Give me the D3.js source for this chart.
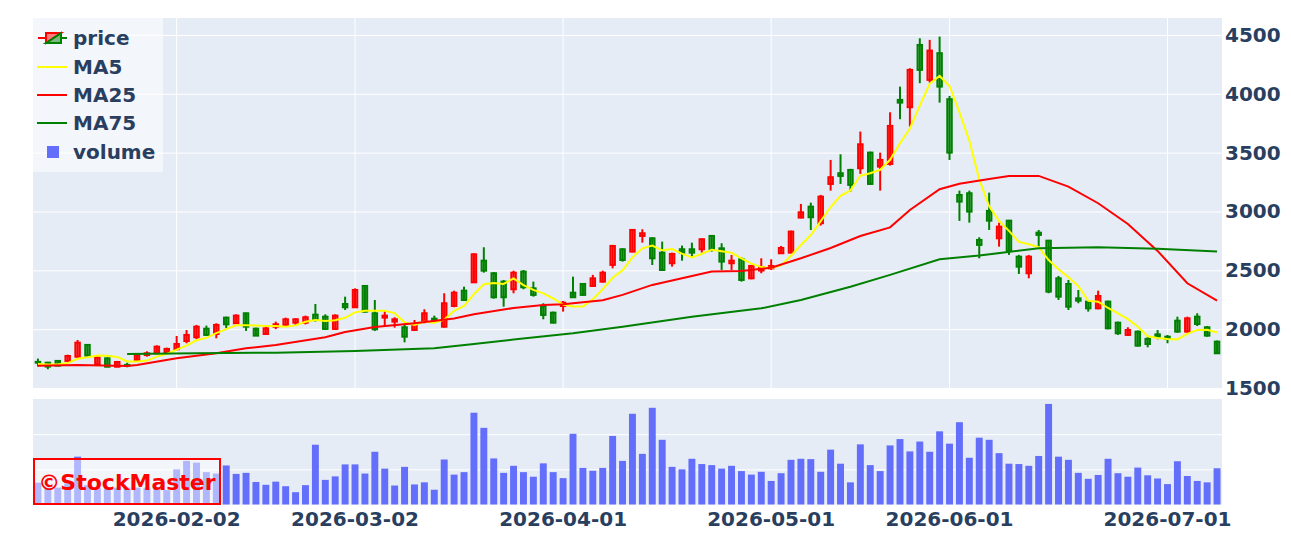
<!DOCTYPE html>
<html>
<head>
<meta charset="utf-8">
<script src="https://cdn.jsdelivr.net/npm/d3@7"></script>
<style>
  body { margin: 0; background: #fff; }
  svg { display: block; }
  text { font-family: "DejaVu Sans", Verdana, sans-serif; font-weight: bold; }
</style>
</head>
<body>
<div id="chart"></div>
<script>
// trading days (weekends and market holidays are not in the axis)
const dates = [
  "2026-01-13","2026-01-14","2026-01-15","2026-01-16","2026-01-19","2026-01-20","2026-01-21","2026-01-22","2026-01-23","2026-01-26",
  "2026-01-27","2026-01-28","2026-01-29","2026-01-30","2026-02-02","2026-02-03","2026-02-04","2026-02-05","2026-02-06","2026-02-09",
  "2026-02-10","2026-02-12","2026-02-13","2026-02-16","2026-02-17","2026-02-18","2026-02-19","2026-02-20","2026-02-24","2026-02-25",
  "2026-02-26","2026-02-27","2026-03-02","2026-03-03","2026-03-04","2026-03-05","2026-03-06","2026-03-09","2026-03-10","2026-03-11",
  "2026-03-12","2026-03-13","2026-03-16","2026-03-17","2026-03-18","2026-03-19","2026-03-23","2026-03-24","2026-03-25","2026-03-26",
  "2026-03-27","2026-03-30","2026-03-31","2026-04-01","2026-04-02","2026-04-03","2026-04-06","2026-04-07","2026-04-08","2026-04-09",
  "2026-04-10","2026-04-13","2026-04-14","2026-04-15","2026-04-16","2026-04-17","2026-04-20","2026-04-21","2026-04-22","2026-04-23",
  "2026-04-24","2026-04-27","2026-04-28","2026-04-30","2026-05-01","2026-05-07","2026-05-08","2026-05-11","2026-05-12","2026-05-13",
  "2026-05-14","2026-05-15","2026-05-18","2026-05-19","2026-05-20","2026-05-21","2026-05-22","2026-05-25","2026-05-26","2026-05-27",
  "2026-05-28","2026-05-29","2026-06-01","2026-06-02","2026-06-03","2026-06-04","2026-06-05","2026-06-08","2026-06-09","2026-06-10",
  "2026-06-11","2026-06-12","2026-06-15","2026-06-16","2026-06-17","2026-06-18","2026-06-19","2026-06-22","2026-06-23","2026-06-24",
  "2026-06-25","2026-06-26","2026-06-29","2026-06-30","2026-07-01","2026-07-02","2026-07-03","2026-07-06","2026-07-07","2026-07-08"
];

const open = [
  1722,1715,1730,1730,1766,1866,1701,1752,1681,1696, 1738,1780,1795,1800,1829,1899,1931,2004,1959,2098,
  2050,2135,2004,1959,2021,2036,2055,2055,2123,2106, 2002,2214,2186,2367,2135,2098,2064,2016,1993,2064,
  2089,2021,2197,2327,2398,2582,2475,2404,2339,2489, 2347,2197,2140,2197,2310,2384,2367,2404,2546,2679,
  2659,2792,2772,2650,2560,2679,2679,2679,2792,2687, 2560,2594,2432,2498,2517,2645,2650,2948,3041,2900,
  3234,3325,3353,3367,3500,3381,3404,3948,3886,4415, 4118,4345,3954,3140,3155,2758,3005,2772,2922,2616,
  2475,2820,2752,2432,2384,2262,2234,2177,2234,2055, 1951,1979,1917,1956,1936,2072,1979,2106,2016,1894
];
const high = [
  1750,1722,1738,1783,1908,1871,1772,1761,1730,1715, 1795,1812,1863,1843,1942,1993,2036,2030,2050,2106,
  2126,2140,2013,2030,2064,2098,2092,2115,2214,2126, 2126,2276,2347,2370,2248,2157,2101,2036,2078,2169,
  2115,2305,2327,2361,2645,2696,2486,2418,2497,2503, 2404,2220,2149,2240,2446,2390,2461,2497,2716,2687,
  2851,2849,2781,2744,2650,2710,2735,2772,2800,2730, 2630,2611,2546,2602,2594,2707,2837,3064,3075,3141,
  3438,3486,3362,3679,3509,3500,3843,4061,4217,4472, 4458,4486,3982,3177,3177,2781,3160,2905,2928,2631,
  2631,2843,2758,2452,2418,2333,2248,2327,2242,2064, 2016,1988,1936,1993,1951,2106,2106,2135,2027,1903
];
const low = [
  1682,1659,1684,1724,1750,1766,1696,1676,1676,1676, 1732,1766,1789,1789,1823,1880,1914,1942,1922,2007,
  2044,1985,1942,1953,2000,2027,2036,2041,2064,1993, 1993,2163,2180,2140,1985,2027,2013,1888,1985,2050,
  2064,2013,2186,2240,2395,2480,2259,2191,2305,2339, 2276,2084,2050,2149,2271,2285,2361,2395,2517,2574,
  2653,2735,2545,2497,2531,2582,2616,2650,2659,2503, 2503,2404,2424,2475,2503,2639,2645,2942,2843,2880,
  3177,3234,3169,3319,3226,3177,3390,3784,3721,4090, 4095,3925,3438,2920,2905,2602,2843,2701,2631,2469,
  2432,2701,2305,2248,2163,2220,2149,2169,1999,1951, 1942,1852,1846,1914,1880,1970,1970,2027,1936,1789
];
const close = [
  1715,1682,1690,1772,1885,1775,1758,1681,1721,1690, 1778,1795,1851,1832,1874,1951,2021,1951,2036,2041,
  2115,2021,1945,2007,2041,2084,2084,2101,2078,2002, 2115,2186,2333,2149,1999,2115,2084,1936,2041,2135,
  2072,2220,2310,2248,2636,2497,2271,2271,2480,2356, 2291,2121,2055,2225,2271,2291,2432,2480,2707,2588,
  2843,2815,2602,2503,2639,2650,2650,2764,2673,2574, 2582,2418,2537,2526,2537,2690,2829,2993,2951,3126,
  3291,3302,3226,3571,3234,3438,3727,3925,4203,4203, 4367,4061,3500,3084,2999,2716,2922,2871,2667,2531,
  2616,2801,2319,2276,2191,2242,2177,2282,2007,1965, 1993,1860,1874,1936,1917,1979,2092,2044,1945,1795
];
// closes of the four sessions before the first shown day (for MA5)
const priorClose = [1700, 1690, 1710, 1700];

// volume, thousand shares
const volume = [
   620, 480, 480, 600,1360, 550, 480, 450, 480, 480,  480, 480, 480, 410,1000,1240,1190, 920, 880,1110,
   870, 900, 640, 560, 650, 520, 350, 550,1700, 700,  800,1140,1140, 880,1500,1020, 540,1070, 570, 630,
   420,1280, 850, 920,2610,2180,1310, 900,1100, 920,  790,1170, 920, 750,2010,1040, 960,1040,1950,1240,
  2580,1440,2750,1840,1070,1000,1300,1150,1120,1020, 1100, 950, 850, 930, 670, 890,1270,1300,1290, 930,
  1560,1160, 630,1710,1120, 950,1680,1860,1510,1790, 1500,2080,1730,2340,1330,1900,1840,1460,1160,1150,
  1100,1380,2860,1360,1270, 900, 730, 840,1300, 890,  790,1050, 830, 740, 580,1230, 810, 670, 630,1030
];

// moving averages (longer windows need history before the first shown day)
const ma25Dates = ["2026-01-13","2026-01-19","2026-01-26","2026-01-27","2026-02-02","2026-02-06","2026-02-12","2026-02-17",
  "2026-02-25","2026-02-27","2026-03-04","2026-03-10","2026-03-16","2026-03-18","2026-03-25","2026-03-30","2026-04-01",
  "2026-04-07","2026-04-09","2026-04-14","2026-04-17","2026-04-22","2026-04-27","2026-05-01","2026-05-11","2026-05-14",
  "2026-05-19","2026-05-22","2026-05-26","2026-05-29","2026-06-02","2026-06-05","2026-06-09","2026-06-12","2026-06-17",
  "2026-06-22","2026-06-25","2026-06-30","2026-07-03","2026-07-08"];
const ma25Values = [1690,1696,1687,1696,1752,1795,1837,1866,
  1931,1975,2018,2050,2090,2126,2180,2206,2211,
  2245,2291,2376,2432,2489,2495,2522,2602,2690,
  2792,2865,3013,3189,3235,3276,3302,3302,3211,
  3070,2894,2665,2390,2242];

const ma75Dates = ["2026-01-26","2026-02-04","2026-02-17","2026-03-02","2026-03-12","2026-03-18","2026-03-25","2026-04-02",
  "2026-04-09","2026-04-20","2026-04-30","2026-05-11","2026-05-18","2026-05-22","2026-05-29","2026-06-04","2026-06-12",
  "2026-06-22","2026-06-30","2026-07-08"];
const ma75Values = [1789,1795,1800,1815,1837,1874,1912,1965,
  2021,2106,2177,2248,2361,2461,2594,2625,2687,
  2696,2684,2659];

const xTicks = ["2026-02-02","2026-03-02","2026-04-01","2026-05-01","2026-06-01","2026-07-01"];
const yTicks = [1500, 2000, 2500, 3000, 3500, 4000, 4500];
const volTicks = [1000, 2000];

// layout
const width = 1291, height = 543;
const plot = { left: 33, right: 1222 };
const price = { top: 18, bottom: 388 };
const vol = { top: 399, bottom: 504.5 };
const textColor = '#2a3f5f';
const upColor = '#ff0000', downColor = '#008000';

const svg = d3.create('svg')
    .attr('width', width)
    .attr('height', height);

const x = d3.scaleBand().domain(dates).range([plot.left, plot.right]);
const cx = d => x(d) + x.bandwidth() / 2;
const yPrice = d3.scaleLinear().domain([1500, 4644]).range([price.bottom, price.top]);
const yVol = d3.scaleLinear().domain([0, 3000]).range([vol.bottom, vol.top]);

// panel backgrounds
svg.append('rect').attr('x', plot.left).attr('y', price.top)
    .attr('width', plot.right - plot.left).attr('height', price.bottom - price.top).attr('fill', '#e5ecf6');
svg.append('rect').attr('x', plot.left).attr('y', vol.top)
    .attr('width', plot.right - plot.left).attr('height', vol.bottom - vol.top).attr('fill', '#e5ecf6');

const whiteGrid = g => {
    g.select('.domain').remove();
    g.selectAll('line').attr('stroke', '#fff').attr('stroke-width', 1);
    g.selectAll('text').remove();
};

// gridlines
svg.append('g').attr('transform', `translate(${plot.right},0)`)
    .call(d3.axisLeft(yPrice).tickValues(yTicks).tickSize(plot.right - plot.left))
    .call(whiteGrid);
svg.append('g').attr('transform', `translate(0,${price.bottom})`)
    .call(d3.axisBottom(x).tickValues(xTicks).tickSize(-(price.bottom - price.top)))
    .call(whiteGrid);
svg.append('g').attr('transform', `translate(${plot.right},0)`)
    .call(d3.axisLeft(yVol).tickValues(volTicks).tickSize(plot.right - plot.left))
    .call(whiteGrid);

// price labels on the right
svg.append('g').attr('transform', `translate(${plot.right},0)`)
    .call(d3.axisRight(yPrice).tickValues(yTicks).tickFormat(d3.format('d')).tickSize(0).tickPadding(3))
    .call(g => g.select('.domain').remove())
    .call(g => g.selectAll('text')
        .attr('fill', textColor).attr('font-size', 20)
        .attr('font-family', '"DejaVu Sans", Verdana, sans-serif').attr('font-weight', 'bold'));

// date labels below the volume panel
svg.append('g').attr('transform', `translate(0,${vol.bottom})`)
    .call(d3.axisBottom(x).tickValues(xTicks).tickSize(0).tickPadding(7))
    .call(g => g.select('.domain').remove())
    .call(g => g.selectAll('text')
        .attr('fill', textColor).attr('font-size', 20)
        .attr('font-family', '"DejaVu Sans", Verdana, sans-serif').attr('font-weight', 'bold'));

// candles
const candles = dates.map((d, i) => ({ date: d, o: open[i], h: high[i], l: low[i], c: close[i] }));
const bodyW = 4.5;
const cg = svg.append('g').selectAll('g').data(candles).enter().append('g');
cg.append('line')
    .attr('x1', d => cx(d.date)).attr('x2', d => cx(d.date))
    .attr('y1', d => yPrice(d.h)).attr('y2', d => yPrice(d.l))
    .attr('stroke', d => d.c > d.o ? upColor : downColor)
    .attr('stroke-width', 2);
cg.append('rect')
    .attr('x', d => cx(d.date) - bodyW / 2)
    .attr('width', bodyW)
    .attr('y', d => yPrice(Math.max(d.o, d.c)))
    .attr('height', d => Math.abs(yPrice(d.o) - yPrice(d.c)))
    .attr('fill', d => d.c > d.o ? 'rgba(255,0,0,0.5)' : 'rgba(0,128,0,0.5)')
    .attr('stroke', d => d.c > d.o ? upColor : downColor)
    .attr('stroke-width', 2);

// moving averages
const allClose = priorClose.concat(close);
const ma5 = dates.map((d, i) => ({ date: d, v: d3.mean(allClose.slice(i, i + 5)) }));
const ma25 = ma25Dates.map((d, i) => ({ date: d, v: ma25Values[i] }));
const ma75 = ma75Dates.map((d, i) => ({ date: d, v: ma75Values[i] }));

const line = d3.line().x(d => cx(d.date)).y(d => yPrice(d.v));
[[ma5, '#ffff00'], [ma25, '#ff0000'], [ma75, '#008000']].forEach(([data, color]) => {
    svg.append('path').datum(data)
        .attr('d', line)
        .attr('fill', 'none')
        .attr('stroke', color)
        .attr('stroke-width', 2);
});

// volume bars
const barW = x.bandwidth() * 0.7;
svg.append('g').selectAll('rect').data(volume).enter().append('rect')
    .attr('x', (v, i) => cx(dates[i]) - barW / 2)
    .attr('width', barW)
    .attr('y', v => yVol(v))
    .attr('height', v => yVol(0) - yVol(v))
    .attr('fill', '#636efa');

// legend
const legend = svg.append('g').attr('transform', `translate(${plot.left},${price.top})`);
legend.append('rect').attr('width', 130).attr('height', 154).attr('fill', 'rgba(255,255,255,0.55)');
const rowY = [20, 49, 77, 105, 134];
const labels = ['price', 'MA5', 'MA25', 'MA75', 'volume'];
legend.selectAll('text').data(labels).enter().append('text')
    .attr('x', 40).attr('y', (d, i) => rowY[i])
    .attr('dominant-baseline', 'central')
    .attr('font-size', 20).attr('fill', textColor)
    .text(d => d);
// candle icon
legend.append('line').attr('x1', 5).attr('x2', 13).attr('y1', rowY[0]).attr('y2', rowY[0])
    .attr('stroke', upColor).attr('stroke-width', 2);
legend.append('line').attr('x1', 28).attr('x2', 34).attr('y1', rowY[0]).attr('y2', rowY[0])
    .attr('stroke', downColor).attr('stroke-width', 2);
legend.append('path').attr('d', `M13,${rowY[0] + 5}V${rowY[0] - 5}H28Z`)
    .attr('fill', 'rgba(255,0,0,0.5)').attr('stroke', upColor).attr('stroke-width', 2);
legend.append('path').attr('d', `M13,${rowY[0] + 5}H28V${rowY[0] - 5}Z`)
    .attr('fill', 'rgba(0,128,0,0.5)').attr('stroke', downColor).attr('stroke-width', 2);
[['#ffff00', 1], ['#ff0000', 2], ['#008000', 3]].forEach(([color, k]) => {
    legend.append('line').attr('x1', 4).attr('x2', 34).attr('y1', rowY[k]).attr('y2', rowY[k])
        .attr('stroke', color).attr('stroke-width', 2);
});
legend.append('rect').attr('x', 14).attr('y', rowY[4] - 6).attr('width', 12).attr('height', 12)
    .attr('fill', '#636efa');

// watermark
const wm = svg.append('g');
wm.append('rect').attr('x', plot.left + 1).attr('y', 459).attr('width', 186).attr('height', 45)
    .attr('fill', 'rgba(255,255,255,0.5)').attr('stroke', '#ff0000').attr('stroke-width', 2);
wm.append('text').attr('x', 127).attr('y', 482)
    .attr('text-anchor', 'middle').attr('dominant-baseline', 'central')
    .attr('font-size', 22).attr('fill', '#ff0000')
    .text('©StockMaster');

document.getElementById('chart').appendChild(svg.node());
</script>
</body>
</html>
